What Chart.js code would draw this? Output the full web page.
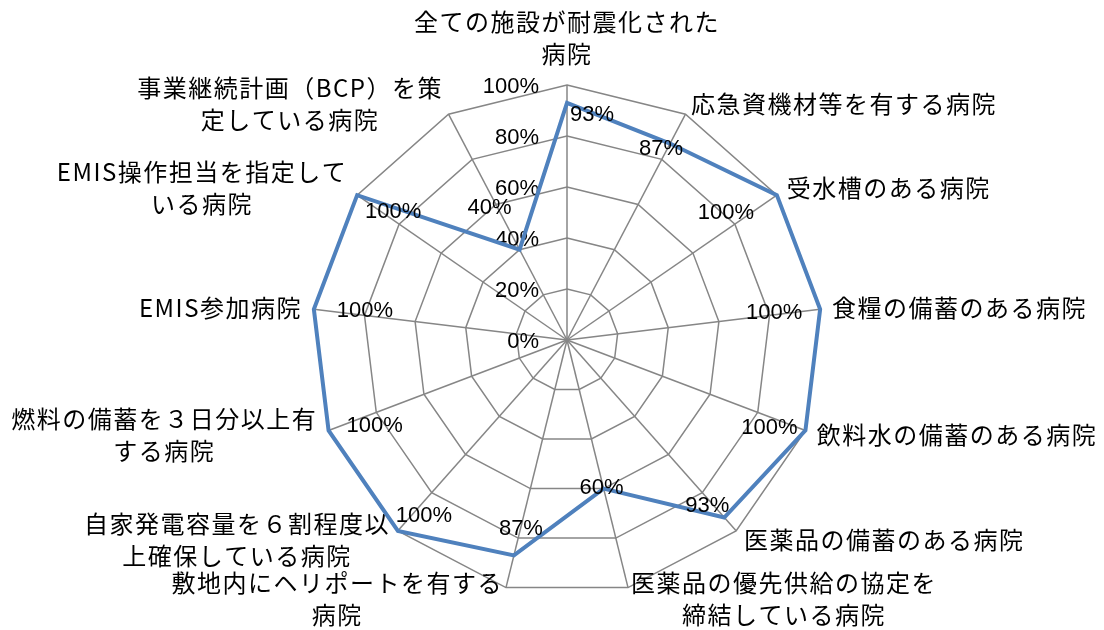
<!DOCTYPE html>
<html>
<head>
<meta charset="utf-8">
<script src="https://cdn.jsdelivr.net/npm/chart.js@4/dist/chart.umd.min.js"></script>
<style>
    body { margin: 0; background: #fff; }
</style>
</head>
<body>
<canvas id="chart" width="1104" height="630"></canvas>
<script>
// categories clockwise from the top
const categories = [
    ['全ての施設が耐震化された', '病院'],
    ['応急資機材等を有する病院'],
    ['受水槽のある病院'],
    ['食糧の備蓄のある病院'],
    ['飲料水の備蓄のある病院'],
    ['医薬品の備蓄のある病院'],
    ['医薬品の優先供給の協定を', '締結している病院'],
    ['敷地内にヘリポートを有する', '病院'],
    ['自家発電容量を６割程度以', '上確保している病院'],
    ['燃料の備蓄を３日分以上有', 'する病院'],
    ['EMIS参加病院'],
    ['EMIS操作担当を指定して', 'いる病院'],
    ['事業継続計画（BCP）を策', '定している病院']
];
const values = [93, 87, 100, 100, 100, 93, 60, 87, 100, 100, 100, 100, 40];
const tickValues = [0, 20, 40, 60, 80, 100];

// where each value label sits relative to its point (px)
const labelOffsets = [
    [25, 12], [-9, 5], [-51, 18], [-46, 4], [-36, -2], [-17, -12], [-2, -1],
    [7, -26], [26, -15], [46, -4], [51, 2], [36, 17], [-30, -42]
];

const numFont = '22px "Liberation Sans", Arial, sans-serif';
const catFont = '24px "Noto Sans CJK JP", sans-serif';
const lineH = 32;

const labelPlugin = {
    id: 'labels',
    beforeDatasetsDraw(chart) {
        const ctx = chart.ctx;
        const scale = chart.scales.r;
        ctx.save();
        ctx.font = numFont;
        ctx.fillStyle = '#000';
        ctx.textAlign = 'right';
        ctx.textBaseline = 'middle';
        for (let v of tickValues) {
            let y = scale.yCenter - scale.getDistanceFromCenterForValue(v);
            ctx.fillText(v + '%', scale.xCenter - 28, y + 2);
        }
        // category labels
        ctx.font = catFont;
        ctx.letterSpacing = '1.5px';
        ctx.textAlign = 'center';
        let n = categories.length;
        categories.forEach((lines, i) => {
            let a = i * 2 * Math.PI / n;
            let s = Math.sin(a), c = Math.cos(a);
            let p = scale.getPointPosition(i, scale.drawingArea + 12);
            let w = Math.max(...lines.map(l => ctx.measureText(l).width));
            let h = lines.length * lineH;
            let left, top;
            if (Math.abs(s) < 0.05) {
                left = p.x - w / 2;
                top = c > 0 ? p.y - 3 - h : p.y + 3;
            } else {
                left = s > 0 ? p.x : p.x - w;
                top = p.y - h / 2;
            }
            lines.forEach((l, j) => {
                ctx.fillText(l, left + w / 2, top + lineH * (j + 0.5));
            });
        });
        ctx.restore();
    },
    afterDatasetsDraw(chart) {
        const ctx = chart.ctx;
        const meta = chart.getDatasetMeta(0);
        ctx.save();
        ctx.font = numFont;
        ctx.fillStyle = '#000';
        ctx.textAlign = 'center';
        ctx.textBaseline = 'middle';
        meta.data.forEach((pt, i) => {
            let off = labelOffsets[i];
            ctx.fillText(values[i] + '%', pt.x + off[0], pt.y + off[1]);
        });
        ctx.restore();
    }
};

new Chart(document.getElementById('chart'), {
    type: 'radar',
    data: {
        labels: categories,
        datasets: [{
            data: values,
            borderColor: '#4F81BD',
            borderWidth: 4,
            backgroundColor: 'rgba(0,0,0,0)',
            fill: false,
            pointRadius: 0,
            pointHoverRadius: 0,
            borderJoinStyle: 'miter'
        }]
    },
    options: {
        responsive: false,
        animation: false,
        devicePixelRatio: 1,
        layout: {
            padding: { left: 312, right: 282, top: 85, bottom: 35 }
        },
        plugins: {
            legend: { display: false },
            tooltip: { enabled: false }
        },
        scales: {
            r: {
                min: 0,
                max: 100,
                ticks: { stepSize: 20, display: false },
                pointLabels: { display: false },
                grid: { color: '#868686', lineWidth: 1.5 },
                angleLines: { color: '#868686', lineWidth: 1.5 }
            }
        }
    },
    plugins: [labelPlugin]
});
</script>
</body>
</html>
